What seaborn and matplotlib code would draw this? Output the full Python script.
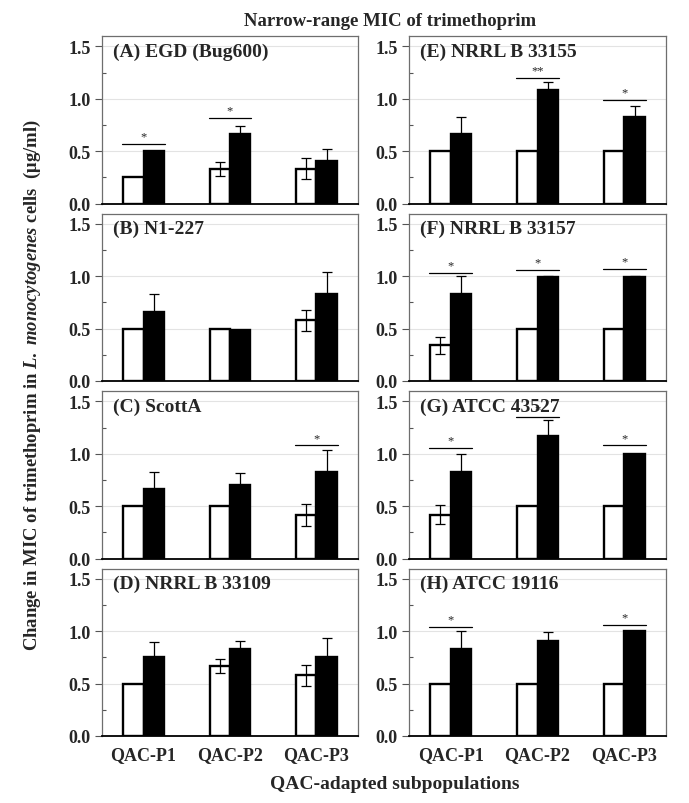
import numpy as np
import pandas as pd
import matplotlib
matplotlib.use('Agg')
import matplotlib.pyplot as plt
import seaborn as sns
from matplotlib.container import BarContainer
from matplotlib.ticker import MultipleLocator

POPS = ['QAC-P1', 'QAC-P2', 'QAC-P3']
CONDS = ['Parent', 'Adapted']

PANEL_LABELS = ['(A) EGD (Bug600)', '(B) N1-227', '(C) ScottA', '(D) NRRL B 33109',
                '(E) NRRL B 33155', '(F) NRRL B 33157', '(G) ATCC 43527', '(H) ATCC 19116']

# mean MIC (ug/ml), white = parent, black = QAC-adapted
parent_mean = [
    [0.25, 0.33, 0.33],
    [0.50, 0.50, 0.58],
    [0.50, 0.50, 0.42],
    [0.50, 0.67, 0.58],
    [0.50, 0.50, 0.50],
    [0.34, 0.50, 0.50],
    [0.42, 0.50, 0.50],
    [0.50, 0.50, 0.50],
]
parent_err = [
    [0.00, 0.07, 0.10],
    [0.00, 0.00, 0.10],
    [0.00, 0.00, 0.105],
    [0.00, 0.07, 0.10],
    [0.00, 0.00, 0.00],
    [0.08, 0.00, 0.00],
    [0.09, 0.00, 0.00],
    [0.00, 0.00, 0.00],
]
adapted_mean = [
    [0.50, 0.66, 0.41],
    [0.66, 0.49, 0.83],
    [0.66, 0.70, 0.83],
    [0.75, 0.83, 0.75],
    [0.66, 1.08, 0.83],
    [0.83, 0.99, 0.99],
    [0.83, 1.17, 1.00],
    [0.83, 0.91, 1.00],
]
adapted_err = [
    [0.005, 0.08, 0.11],
    [0.17, 0.00, 0.21],
    [0.17, 0.12, 0.21],
    [0.145, 0.08, 0.185],
    [0.17, 0.08, 0.10],
    [0.17, 0.01, 0.01],
    [0.17, 0.15, 0.00],
    [0.17, 0.08, 0.00],
]
# significance: (group, stars, bar height)
significance = [
    [(0, '*', 0.57), (1, '*', 0.82)],
    [],
    [(2, '*', 1.08)],
    [],
    [(1, '**', 1.20), (2, '*', 0.99)],
    [(0, '*', 1.03), (1, '*', 1.06), (2, '*', 1.07)],
    [(0, '*', 1.06), (1, '*', 1.35), (2, '*', 1.08)],
    [(0, '*', 1.045), (2, '*', 1.057)],
]

sns.set_style('white')
plt.rcParams['font.family'] = ['Liberation Serif', 'DejaVu Serif']
plt.rcParams['font.weight'] = 'bold'
plt.rcParams['mathtext.fontset'] = 'custom'
plt.rcParams['mathtext.it'] = 'Liberation Serif:italic:bold'
plt.rcParams['mathtext.rm'] = 'Liberation Serif:bold'

W, H = 689, 804
fig = plt.figure(figsize=(W / 100, H / 100), dpi=100)

col_x = [102, 409]
col_w = [256, 257]
row_top = [37, 214.5, 392, 569.5]
ax_h = 167.5

for i in range(8):
    col, row = divmod(i, 4)
    left = col_x[col] / W
    bottom = 1 - (row_top[row] + ax_h) / H
    ax = fig.add_axes([left, bottom, col_w[col] / W, ax_h / H])

    df = pd.DataFrame({
        'pop': POPS * 2,
        'cond': [CONDS[0]] * 3 + [CONDS[1]] * 3,
        'mic': parent_mean[i] + adapted_mean[i],
    })
    sns.barplot(data=df, x='pop', y='mic', hue='cond', order=POPS, hue_order=CONDS,
                palette={'Parent': 'white', 'Adapted': 'black'}, edgecolor='black',
                linewidth=1.7, width=0.47, errorbar=None, legend=False, ax=ax, zorder=3)

    errs = [parent_err[i], adapted_err[i]]
    means = [parent_mean[i], adapted_mean[i]]
    bar_conts = [c for c in ax.containers if isinstance(c, BarContainer)]
    centers = [[b.get_x() + b.get_width() / 2 for b in c] for c in bar_conts]
    for k in range(2):
        for j in range(3):
            if errs[k][j] > 0:
                ax.errorbar(centers[k][j], means[k][j], yerr=errs[k][j], fmt='none',
                            ecolor='black', elinewidth=0.9, capsize=3.5,
                            capthick=0.9, zorder=4)

    for g, stars, yl in significance[i]:
        x0 = centers[0][g] - 0.13
        x1 = centers[1][g] + 0.13
        ax.plot([x0, x1], [yl, yl], color='black', lw=0.9, zorder=4)
        ax.text((x0 + x1) / 2, yl + 0.015, stars, ha='center', va='bottom',
                fontsize=9, fontweight='normal', zorder=4)

    ax.set_ylim(0, 1.6)
    ax.set_xlim(-0.48, 2.48)
    ax.yaxis.set_major_locator(MultipleLocator(0.5))
    ax.yaxis.set_minor_locator(MultipleLocator(0.25))
    ax.set_yticks([0, 0.5, 1.0, 1.5])
    ax.set_yticklabels(['0.0', '0.5', '1.0', '1.5'], fontsize=13, fontweight='bold')
    ax.tick_params(axis='y', which='major', direction='out', length=5, width=0.8,
                   color='#555555', left=True, pad=3)
    ax.tick_params(axis='y', which='minor', direction='in', length=3, width=0.8,
                   color='#555555', left=True)
    ax.grid(axis='y', which='major', color='#e3e3e3', lw=0.8, zorder=0)
    ax.set_axisbelow(True)
    ax.tick_params(axis='x', length=0, pad=7)
    if row == 3:
        ax.set_xticks(range(3))
        ax.set_xticklabels(POPS, fontsize=13, fontweight='bold')
    else:
        ax.set_xticklabels([])
    ax.set_xlabel('')
    ax.set_ylabel('')
    for s in ['left', 'top', 'right']:
        ax.spines[s].set_color('#6e6e6e')
        ax.spines[s].set_linewidth(0.9)
    ax.spines['bottom'].set_color('black')
    ax.spines['bottom'].set_linewidth(1.3)

    ax.text(0.043, 0.91, PANEL_LABELS[i], transform=ax.transAxes, ha='left',
            va='center', fontsize=14, fontweight='bold')

fig.text(390 / W, 1 - 22 / H, 'Narrow-range MIC of trimethoprim', ha='center',
         va='center', fontsize=13.5, fontweight='bold')
fig.text(32 / W, 1 - 385 / H,
         r'Change in MIC of trimethoprim in $\mathit{L.\ monocytogenes}$ cells  (μg/ml)',
         rotation=90, ha='center', va='center', fontsize=13.4, fontweight='bold')
fig.text(395 / W, 1 - 785 / H, 'QAC-adapted subpopulations', ha='center',
         va='center', fontsize=14, fontweight='bold')

fig.savefig('out.png', dpi=100)
